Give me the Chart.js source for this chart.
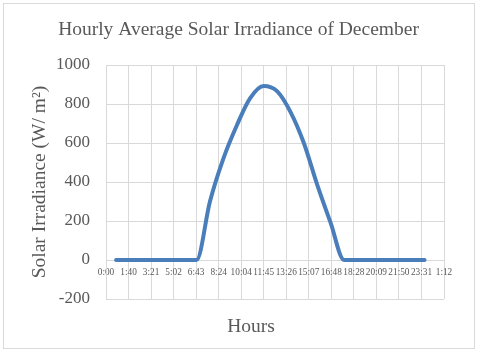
<!DOCTYPE html>
<html>
<head>
    <title>Hourly Average Solar Irradiance of December</title>
    <script src="https://cdn.jsdelivr.net/npm/chart.js"></script>
    <style>
        body { margin: 0; background: #ffffff; }
        #wrap { position: relative; width: 480px; height: 352px; }
        #frame {
            position: absolute; left: 3px; top: 3px; width: 470px; height: 344px;
            border: 1px solid #d9d9d9; pointer-events: none;
        }
        canvas { position: absolute; left: 0; top: 0; }
    </style>
</head>
<body>
    <div id="wrap">
        <canvas id="solarChart" width="480" height="352"></canvas>
        <div id="frame"></div>
    </div>

    <script>
        // data
        const hours = [0.75, 1.75, 2.75, 3.75, 4.75, 5.75, 6.75, 7.75, 8.75, 9.75, 10.75, 11.75,
                       12.75, 13.75, 14.75, 15.75, 16.75, 17.75, 18.75, 19.75, 20.75, 21.75, 22.75, 23.75];
        const irradiance = [0, 0, 0, 0, 0, 0, 0, 300, 520, 690, 830, 892,
                            866, 760, 600, 385, 190, 0, 0, 0, 0, 0, 0, 0];
        const timeLabels = ['0:00', '1:40', '3:21', '5:02', '6:43', '8:24', '10:04', '11:45',
                            '13:26', '15:07', '16:48', '18:28', '20:09', '21:50', '23:31', '1:12'];
        const timeStep = 1.68; // hours between time labels

        const textColor = '#595959';
        const gridColor = '#d9d9d9';
        const serif = 'Liberation Serif, Times New Roman, serif';

        // x axis title sits a bit left of the plot centre, like the original
        const hoursTitle = {
            id: 'hoursTitle',
            afterDraw(chart) {
                const ctx = chart.ctx;
                ctx.save();
                ctx.font = '19.5px ' + serif;
                ctx.fillStyle = textColor;
                ctx.textAlign = 'center';
                ctx.textBaseline = 'middle';
                ctx.fillText('Hours', 251, 327);
                ctx.restore();
            }
        };

        const ctx = document.getElementById('solarChart').getContext('2d');
        new Chart(ctx, {
            type: 'line',
            data: {
                datasets: [{
                    label: 'Irradiance',
                    data: hours.map((h, i) => ({ x: h, y: irradiance[i] })),
                    borderColor: '#4A7EBB',
                    borderWidth: 4,
                    borderCapStyle: 'round',
                    borderJoinStyle: 'round',
                    pointRadius: 0,
                    cubicInterpolationMode: 'monotone',
                    fill: false
                }]
            },
            options: {
                responsive: false,
                devicePixelRatio: 1,
                animation: false,
                layout: { padding: { left: 33, right: 36, top: 0, bottom: 53 } },
                plugins: {
                    legend: { display: false },
                    tooltip: { enabled: false },
                    title: {
                        display: true,
                        text: 'Hourly Average Solar Irradiance of December',
                        color: textColor,
                        font: { family: serif, size: 19.5, weight: 'normal' },
                        padding: { top: 18.3, bottom: 23.3 }
                    }
                },
                scales: {
                    x: {
                        type: 'linear',
                        position: { y: 0 },
                        min: 0,
                        max: 25.2,
                        afterBuildTicks: scale => {
                            scale.ticks = timeLabels.map((_, i) => ({ value: i * timeStep }));
                        },
                        grid: { color: gridColor, drawTicks: false },
                        border: { color: gridColor },
                        ticks: {
                            autoSkip: false,
                            maxRotation: 0,
                            padding: 7,
                            color: textColor,
                            font: { family: serif, size: 9.3 },
                            callback: (v, i) => timeLabels[i]
                        }
                    },
                    y: {
                        min: -200,
                        max: 1000,
                        afterFit: scale => { scale.width = 73; },
                        grid: { color: gridColor, drawTicks: false },
                        border: { color: gridColor },
                        ticks: {
                            stepSize: 200,
                            padding: 16,
                            color: textColor,
                            font: { family: serif, size: 17 },
                            callback: v => v
                        },
                        title: {
                            display: true,
                            text: 'Solar Irradiance (W/ m\u00B2)',
                            color: textColor,
                            font: { family: serif, size: 19.5 },
                            padding: { top: -4.7, bottom: 0 }
                        }
                    }
                }
            },
            plugins: [hoursTitle]
        });
    </script>
</body>
</html>
